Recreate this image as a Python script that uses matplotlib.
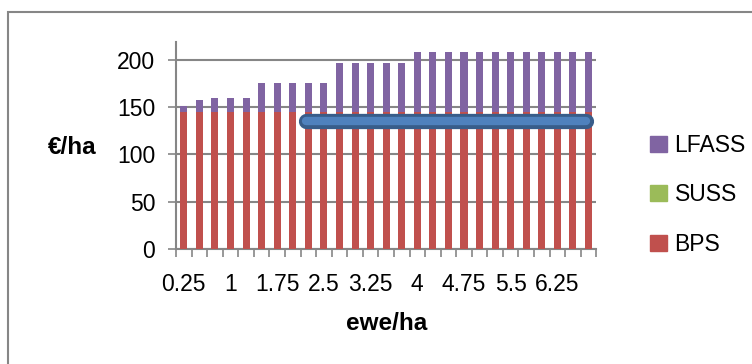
import matplotlib
matplotlib.use("Agg")
import matplotlib.pyplot as plt
import matplotlib.patheffects as pe
from matplotlib.patches import Patch, Rectangle
import numpy as np

plt.rcParams['font.family'] = ['Liberation Sans', 'DejaVu Sans']

categories = [f"{v:g}" for v in np.arange(0.25, 6.76, 0.25)]
bps = [145] * 27
suss = [0] * 27
lfass = [6, 12, 15, 15, 15, 30, 30, 30, 30, 30,
         52, 52, 52, 52, 52, 63, 63, 63, 63, 63,
         63, 63, 63, 63, 63, 63, 63]
line_level = 135
line_start = 8  # category index where the line starts
tick_labels_every = 3

red = '#C0504D'
green = '#9BBB59'
purple = '#8064A2'
grid = '#868686'
fs = 16.5

fig = plt.figure(figsize=(7.52, 3.64), dpi=100)
ax = fig.add_axes([0.234, 0.316, 0.559, 0.569])

x = np.arange(len(categories))
w = 0.45
ax.bar(x, bps, w, color=red, zorder=3)
ax.bar(x, suss, w, bottom=bps, color=green, zorder=3)
bottom2 = np.array(bps) + np.array(suss)
ax.bar(x, lfass, w, bottom=bottom2, color=purple, zorder=3)

ax.plot([line_start - 0.15, len(categories) - 1 - 0.15], [line_level, line_level],
        color='#4F81BD', lw=6, solid_capstyle='round', zorder=5,
        path_effects=[pe.Stroke(linewidth=11, foreground='#385D8A', capstyle='round'), pe.Normal()])

ax.set_xlim(-0.5, len(categories) - 0.5)
ax.set_ylim(0, 219)
ax.set_yticks([0, 50, 100, 150, 200])
ax.yaxis.grid(True, color=grid, lw=1.5, zorder=0)
ax.tick_params(axis='y', length=6, width=1.2, color=grid, labelsize=fs, pad=9)

ax.set_xticks(x[::tick_labels_every])
ax.set_xticklabels(categories[::tick_labels_every])
ax.tick_params(axis='x', which='major', length=0, labelsize=fs, pad=17)
ax.set_xticks(np.arange(-0.5, len(categories), 1), minor=True)
ax.tick_params(axis='x', which='minor', length=6, width=1.2, color=grid)

for s in ['top', 'right']:
    ax.spines[s].set_visible(False)
for s in ['left', 'bottom']:
    ax.spines[s].set_color(grid)
    ax.spines[s].set_linewidth(1.5)

ax.set_ylabel('€/ha', fontsize=fs + 1, fontweight='bold', rotation=0, va='center', ha='center')
ax.yaxis.set_label_coords(-0.248, 0.49)
ax.set_xlabel('ewe/ha', fontsize=fs + 1, fontweight='bold', labelpad=12)

handles = [Patch(color=purple, label='LFASS'), Patch(color=green, label='SUSS'), Patch(color=red, label='BPS')]
fig.legend(handles=handles, loc='center left', bbox_to_anchor=(0.865, 0.465), frameon=False,
           fontsize=fs, labelspacing=1.15, handlelength=0.7, handleheight=0.7, handletextpad=0.35,
           borderaxespad=0, borderpad=0)

fig.add_artist(Rectangle((8 / 752, -0.1), 1.1, 1 - 12 / 364 + 0.1, transform=fig.transFigure,
                         fill=False, edgecolor='#868686', lw=1.5))

fig.savefig('out.png', dpi=100)
